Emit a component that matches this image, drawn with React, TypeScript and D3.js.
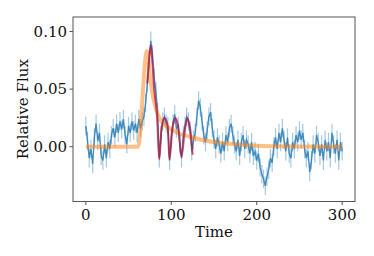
import * as d3 from "d3";
import React from "react";

// observed light curve, sampled every 2 time units
const times: number[] = d3.range(0, 301, 2);
const flux: number[] = [
  0.018, 0.005, -0.010, -0.002, -0.015, 0.008, 0.020, 0.005, 0.012, -0.008,
  -0.012, 0.002, -0.010, 0.004, -0.002, 0.010, 0.016, 0.008, 0.020, 0.012,
  0.022, 0.015, 0.024, 0.010, 0.002, 0.018, 0.012, 0.022, 0.014, 0.020,
  0.012, 0.024, 0.016, 0.022, 0.026, 0.038, 0.055, 0.075, 0.092, 0.080,
  0.060, 0.048, 0.030, -0.010, 0.010, 0.022, 0.026, 0.020, 0.018, -0.012,
  0.008, 0.020, 0.028, 0.016, 0.018, 0.002, -0.010, 0.010, 0.018, 0.026,
  0.022, 0.014, -0.004, 0.006, 0.012, 0.026, 0.040, 0.034, 0.022, 0.010,
  0.004, 0.014, 0.026, 0.030, 0.016, 0.006, -0.002, 0.008, 0.002, -0.006,
  0.004, -0.004, 0.010, 0.004, 0.016, 0.020, 0.010, 0.002, -0.004, 0.006,
  -0.008, 0.004, 0.010, -0.002, 0.006, 0.002, -0.006, 0.004, -0.008, -0.004,
  -0.012, -0.006, -0.018, -0.024, -0.028, -0.034, -0.026, -0.020, -0.010, -0.014,
  0.000, 0.008, -0.002, 0.012, 0.004, 0.016, 0.006, -0.004, 0.008, -0.006,
  -0.010, 0.004, -0.002, 0.010, 0.004, 0.014, 0.006, 0.012, -0.002, -0.010,
  -0.004, -0.022, -0.012, 0.002, -0.006, 0.010, 0.004, -0.008, 0.002, -0.012,
  0.006, -0.004, 0.004, -0.010, 0.012, 0.002, -0.006, 0.006, -0.012, 0.004,
  -0.004,
];
const fluxErr = 0.008;

// flare model (orange)
const modelTimes = [0, 61, 71.5, 75, 78, 82, 86, 92, 100, 110, 120, 135, 150, 175, 200, 240, 300];
const modelFlux = [0, 0, 0.083, 0.062, 0.046, 0.033, 0.025, 0.019, 0.015, 0.011, 0.009, 0.006, 0.004, 0.002, 0.0008, 0.0002, 0];

// QPP fit (red)
const fitTimes = [72, 74, 76, 78, 80, 83, 86, 89, 92, 95, 98, 102, 105, 108, 112, 116, 119, 122, 125];
const fitFlux = [0.055, 0.075, 0.088, 0.072, 0.050, 0.030, -0.011, 0.018, 0.025, 0.021, -0.011, 0.019, 0.025, 0.018, -0.009, 0.015, 0.025, 0.016, -0.007];

const xTicks = [0, 100, 200, 300];
const yTicks = [0.0, 0.05, 0.1];

const W = 374;
const H = 256;
const m = { left: 73, right: 355, top: 17, bottom: 201.5 };
const font = "DejaVu Serif";
const fs = 15;

export default function App() {
  const x = d3.scaleLinear().domain([-15, 315]).range([m.left, m.right]);
  const y = d3.scaleLinear().domain([-0.0476, 0.1126]).range([m.bottom, m.top]);

  const obs = times.map((t, i) => [t, flux[i]] as [number, number]);
  const obsLine = d3.line<[number, number]>().x((d) => x(d[0])).y((d) => y(d[1]))(obs) ?? "";
  const model = modelTimes.map((t, i) => [t, modelFlux[i]] as [number, number]);
  const modelLine = d3
    .line<[number, number]>()
    .x((d) => x(d[0]))
    .y((d) => y(d[1]))
    .curve(d3.curveMonotoneX)(model) ?? "";
  const fit = fitTimes.map((t, i) => [t, fitFlux[i]] as [number, number]);
  const fitLine = d3
    .line<[number, number]>()
    .x((d) => x(d[0]))
    .y((d) => y(d[1]))
    .curve(d3.curveCatmullRom)(fit) ?? "";

  return (
    <svg width={W} height={H} style={{ position: "absolute", left: 0, top: 0, background: "#fff" }}>
      <defs>
        <clipPath id="plotArea">
          <rect x={m.left} y={m.top} width={m.right - m.left} height={m.bottom - m.top} />
        </clipPath>
      </defs>
      <g clipPath="url(#plotArea)">
        {/* error bars */}
        <g stroke="#1f77b4" strokeOpacity={0.4} strokeWidth={1.2}>
          {obs.map((d, i) => (
            <line key={i} x1={x(d[0])} x2={x(d[0])} y1={y(d[1] - fluxErr)} y2={y(d[1] + fluxErr)} />
          ))}
        </g>
        <path d={obsLine} fill="none" stroke="#1f77b4" strokeOpacity={0.8} strokeWidth={1.4} />
        <path d={modelLine} fill="none" stroke="#ff7f0e" strokeOpacity={0.5} strokeWidth={4} />
        <path d={fitLine} fill="none" stroke="#b3153a" strokeOpacity={0.75} strokeWidth={2} />
      </g>
      <rect
        x={m.left}
        y={m.top}
        width={m.right - m.left}
        height={m.bottom - m.top}
        fill="none"
        stroke="#555"
        strokeWidth={1}
      />
      {xTicks.map((t) => (
        <g key={t}>
          <line x1={x(t)} x2={x(t)} y1={m.bottom} y2={m.bottom + 3.5} stroke="#555" />
          <text x={x(t)} y={m.bottom + 18} textAnchor="middle" fontFamily={font} fontSize={fs} fill="#111">
            {t}
          </text>
        </g>
      ))}
      {yTicks.map((t) => (
        <g key={t}>
          <line x1={m.left - 3.5} x2={m.left} y1={y(t)} y2={y(t)} stroke="#555" />
          <text x={m.left - 6} y={y(t) + 5} textAnchor="end" fontFamily={font} fontSize={fs} fill="#111">
            {d3.format(".2f")(t)}
          </text>
        </g>
      ))}
      <text x={(m.left + m.right) / 2} y={237} textAnchor="middle" fontFamily={font} fontSize={fs} fill="#111">
        Time
      </text>
      <text
        transform={`translate(28,${(m.top + m.bottom) / 2}) rotate(-90)`}
        textAnchor="middle"
        fontFamily={font}
        fontSize={fs}
        fill="#111"
      >
        Relative Flux
      </text>
    </svg>
  );
}
